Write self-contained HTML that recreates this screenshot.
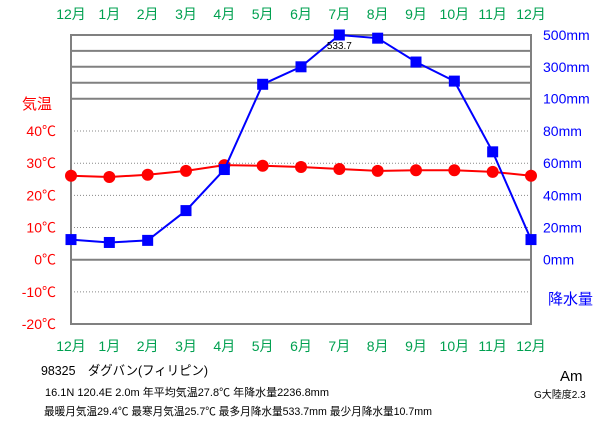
<!DOCTYPE html>
<html><head><meta charset="utf-8"><style>
body{margin:0;background:#fff;width:611px;height:425px;overflow:hidden;font-family:"Liberation Sans","Noto Sans CJK JP",sans-serif}
svg text{font-family:"Liberation Sans","Noto Sans CJK JP",sans-serif}
</style></head><body>
<svg id="c" width="611" height="425"></svg>
<script>
const months=["12月","1月","2月","3月","4月","5月","6月","7月","8月","9月","10月","11月","12月"];
const temps=[26.1,25.7,26.4,27.6,29.4,29.2,28.8,28.2,27.6,27.8,27.8,27.3,26.1];
const precip=[12.5,10.7,12,30.5,56,190,300,533.7,480,330,210,67,12.5];
const tempTicks=[40,30,20,10,0,-10,-20];
const precipTicks=[0,20,40,60,80,100,300,500];
const L=71,R=531,T=35,B=324;
const NS="http://www.w3.org/2000/svg";
const svg=document.getElementById('c');
function el(tag,attrs,txt){const e=document.createElementNS(NS,tag);for(const k in attrs)e.setAttribute(k,attrs[k]);if(txt!==undefined)e.textContent=txt;svg.appendChild(e);return e;}
const xs=i=>L+i*(R-L)/12;
const yT=t=>259.7-t*3.217;
function yP(p){if(p<=100)return 259.7-p*1.61;p=Math.min(p,500);return 98.6-(p-100)*0.159;}
[40,30,20,10,-10].forEach(t=>{const g=el('line',{x1:L,x2:R,y1:yT(t),y2:yT(t),stroke:'#888','stroke-dasharray':'1,2','stroke-width':1});});
[200,300,400,100].forEach(p=>{const g=el('line',{x1:L,x2:R,y1:yP(p),y2:yP(p),stroke:'#808080','stroke-width':2});});
const z=el('line',{x1:L,x2:R,y1:yT(0),y2:yT(0),stroke:'#808080','stroke-width':2});

const fr=el('rect',{x:L,y:T,width:R-L,height:B-T,fill:'none',stroke:'#808080','stroke-width':2});

months.forEach((m,i)=>{[14,346].forEach(y=>{const t=el('text',{x:xs(i),y:y+5,'text-anchor':'middle','font-size':14,fill:'#00a050'},m);});});
tempTicks.forEach(t=>{const e=el('text',{x:56,y:yT(t)+5,'text-anchor':'end','font-size':14,fill:'#f00'},t+'℃');});
const tt=el('text',{x:22,y:109,'font-size':15,fill:'#f00'},'気温');
precipTicks.forEach(p=>{const e=el('text',{x:543,y:yP(p)+5,'font-size':14,fill:'#00f'},p+'mm');});
const pt=el('text',{x:548,y:304,'font-size':15,fill:'#00f'},'降水量');
const tl=el('polyline',{points:temps.map((t,i)=>xs(i)+','+yT(t)).join(' '),fill:'none',stroke:'#f00','stroke-width':2});

temps.forEach((t,i)=>{const c=el('circle',{cx:xs(i),cy:yT(t),r:6,fill:'#f00'});});
const pl=el('polyline',{points:precip.map((p,i)=>xs(i)+','+yP(p)).join(' '),fill:'none',stroke:'#00f','stroke-width':2});

precip.forEach((p,i)=>{const r=el('rect',{x:xs(i)-5.5,y:yP(p)-5.5,width:11,height:11,fill:'#00f'});});
const mx=precip.indexOf(Math.max(...precip));
const ml=el('text',{x:xs(mx),y:yP(precip[mx])+14,'text-anchor':'middle','font-size':10,fill:'#000'},String(precip[mx]));

const info=[[41,375,13,'98325　ダグバン(フィリピン)','station-name',167],[45,396,11,'16.1N  120.4E  2.0m  年平均気温27.8℃  年降水量2236.8mm','station-info',284],[44,415,11,'最暖月気温29.4℃ 最寒月気温25.7℃ 最多月降水量533.7mm 最少月降水量10.7mm','station-extremes',388],[560,381,15,'Am','climate-class',0],[534,398,10,'G大陸度2.3','continentality',0]];
info.forEach(a=>{const at={x:a[0],y:a[1],'font-size':a[2],fill:'#000'};if(a[5]){at.textLength=a[5];at.lengthAdjust='spacingAndGlyphs';}const e=el('text',at,a[3]);});
</script>
</body></html>
